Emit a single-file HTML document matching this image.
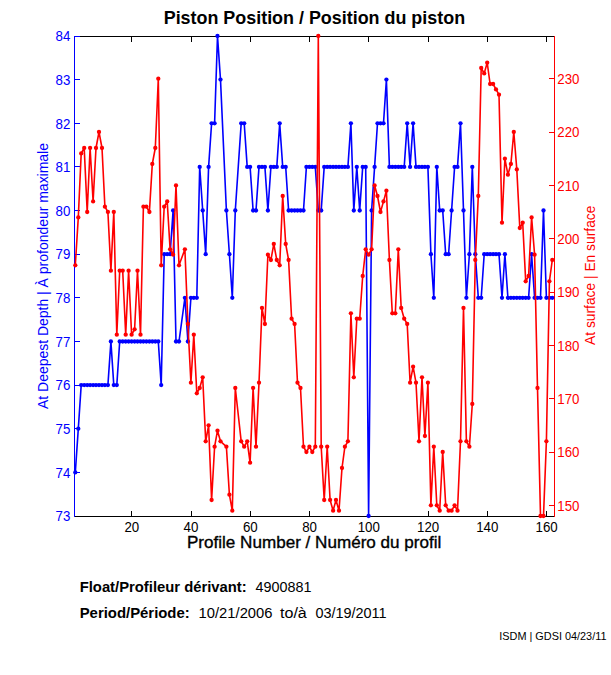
<!DOCTYPE html>
<html><head><meta charset="utf-8"><title>Piston Position</title>
<style>
html,body{margin:0;padding:0;background:#fff;}
body{width:611px;height:675px;overflow:hidden;font-family:"Liberation Sans",sans-serif;}
svg{display:block;font-family:"Liberation Sans",sans-serif;}
</style></head><body>
<svg width="611" height="675" viewBox="0 0 611 675">
<rect x="0" y="0" width="611" height="675" fill="#fff"/>
<g shape-rendering="crispEdges">
<rect x="74" y="36" width="481" height="1" fill="#000"/>
<rect x="74" y="516" width="481" height="1" fill="#000"/>
<rect x="131" y="511" width="1" height="5" fill="#000"/><rect x="131" y="37" width="1" height="5" fill="#000"/>
<rect x="191" y="511" width="1" height="5" fill="#000"/><rect x="191" y="37" width="1" height="5" fill="#000"/>
<rect x="250" y="511" width="1" height="5" fill="#000"/><rect x="250" y="37" width="1" height="5" fill="#000"/>
<rect x="309" y="511" width="1" height="5" fill="#000"/><rect x="309" y="37" width="1" height="5" fill="#000"/>
<rect x="368" y="511" width="1" height="5" fill="#000"/><rect x="368" y="37" width="1" height="5" fill="#000"/>
<rect x="428" y="511" width="1" height="5" fill="#000"/><rect x="428" y="37" width="1" height="5" fill="#000"/>
<rect x="487" y="511" width="1" height="5" fill="#000"/><rect x="487" y="37" width="1" height="5" fill="#000"/>
<rect x="546" y="511" width="1" height="5" fill="#000"/><rect x="546" y="37" width="1" height="5" fill="#000"/>
<rect x="74" y="36" width="1" height="481" fill="#00f"/>
<rect x="75" y="472" width="5" height="1" fill="#00f"/>
<rect x="75" y="428" width="5" height="1" fill="#00f"/>
<rect x="75" y="385" width="5" height="1" fill="#00f"/>
<rect x="75" y="341" width="5" height="1" fill="#00f"/>
<rect x="75" y="297" width="5" height="1" fill="#00f"/>
<rect x="75" y="254" width="5" height="1" fill="#00f"/>
<rect x="75" y="210" width="5" height="1" fill="#00f"/>
<rect x="75" y="166" width="5" height="1" fill="#00f"/>
<rect x="75" y="123" width="5" height="1" fill="#00f"/>
<rect x="75" y="79" width="5" height="1" fill="#00f"/>
<rect x="75" y="36" width="5" height="1" fill="#00f"/>
<rect x="554" y="36" width="1" height="481" fill="#f00"/>
<rect x="549" y="505" width="5" height="1" fill="#f00"/>
<rect x="549" y="452" width="5" height="1" fill="#f00"/>
<rect x="549" y="398" width="5" height="1" fill="#f00"/>
<rect x="549" y="345" width="5" height="1" fill="#f00"/>
<rect x="549" y="292" width="5" height="1" fill="#f00"/>
<rect x="549" y="238" width="5" height="1" fill="#f00"/>
<rect x="549" y="185" width="5" height="1" fill="#f00"/>
<rect x="549" y="132" width="5" height="1" fill="#f00"/>
<rect x="549" y="78" width="5" height="1" fill="#f00"/>
</g>
<g font-size="14px" fill="#000" lengthAdjust="spacingAndGlyphs">
<text x="124.4" y="532" textLength="14.8" lengthAdjust="spacingAndGlyphs">20</text><text x="183.6" y="532" textLength="14.8" lengthAdjust="spacingAndGlyphs">40</text><text x="242.9" y="532" textLength="14.8" lengthAdjust="spacingAndGlyphs">60</text><text x="302.2" y="532" textLength="14.8" lengthAdjust="spacingAndGlyphs">80</text><text x="357.7" y="532" textLength="22.2" lengthAdjust="spacingAndGlyphs">100</text><text x="417.0" y="532" textLength="22.2" lengthAdjust="spacingAndGlyphs">120</text><text x="476.2" y="532" textLength="22.2" lengthAdjust="spacingAndGlyphs">140</text><text x="535.5" y="532" textLength="22.2" lengthAdjust="spacingAndGlyphs">160</text></g>
<g font-size="14px" fill="#00f">
<text x="55.5" y="521.2" textLength="14.8" lengthAdjust="spacingAndGlyphs">73</text><text x="55.5" y="477.6" textLength="14.8" lengthAdjust="spacingAndGlyphs">74</text><text x="55.5" y="433.9" textLength="14.8" lengthAdjust="spacingAndGlyphs">75</text><text x="55.5" y="390.3" textLength="14.8" lengthAdjust="spacingAndGlyphs">76</text><text x="55.5" y="346.7" textLength="14.8" lengthAdjust="spacingAndGlyphs">77</text><text x="55.5" y="303.0" textLength="14.8" lengthAdjust="spacingAndGlyphs">78</text><text x="55.5" y="259.4" textLength="14.8" lengthAdjust="spacingAndGlyphs">79</text><text x="55.5" y="215.7" textLength="14.8" lengthAdjust="spacingAndGlyphs">80</text><text x="55.5" y="172.1" textLength="14.8" lengthAdjust="spacingAndGlyphs">81</text><text x="55.5" y="128.5" textLength="14.8" lengthAdjust="spacingAndGlyphs">82</text><text x="55.5" y="84.8" textLength="14.8" lengthAdjust="spacingAndGlyphs">83</text><text x="55.5" y="41.2" textLength="14.8" lengthAdjust="spacingAndGlyphs">84</text></g>
<g font-size="14px" fill="#f00">
<text x="557.3" y="510.5" textLength="22.2" lengthAdjust="spacingAndGlyphs">150</text><text x="557.3" y="457.2" textLength="22.2" lengthAdjust="spacingAndGlyphs">160</text><text x="557.3" y="403.9" textLength="22.2" lengthAdjust="spacingAndGlyphs">170</text><text x="557.3" y="350.5" textLength="22.2" lengthAdjust="spacingAndGlyphs">180</text><text x="557.3" y="297.2" textLength="22.2" lengthAdjust="spacingAndGlyphs">190</text><text x="557.3" y="243.9" textLength="22.2" lengthAdjust="spacingAndGlyphs">200</text><text x="557.3" y="190.6" textLength="22.2" lengthAdjust="spacingAndGlyphs">210</text><text x="557.3" y="137.2" textLength="22.2" lengthAdjust="spacingAndGlyphs">220</text><text x="557.3" y="83.9" textLength="22.2" lengthAdjust="spacingAndGlyphs">230</text></g>
<polyline fill="none" stroke="#00f" stroke-width="1.6" stroke-linejoin="round" points="75.3,472.4 78.3,428.7 81.2,385.1 84.2,385.1 87.2,385.1 90.1,385.1 93.1,385.1 96.0,385.1 99.0,385.1 102.0,385.1 104.9,385.1 107.9,385.1 110.9,341.5 113.8,385.1 116.8,385.1 119.7,341.5 122.7,341.5 125.7,341.5 128.6,341.5 131.6,341.5 134.6,341.5 137.5,341.5 140.5,341.5 143.4,341.5 146.4,341.5 149.4,341.5 152.3,341.5 155.3,341.5 158.3,341.5 161.2,385.1 164.2,254.2 167.2,254.2 170.1,254.2 173.1,210.5 176.0,341.5 179.0,341.5 184.9,297.8 187.9,341.5 190.9,297.8 193.8,297.8 196.8,297.8 199.7,166.9 202.7,210.5 205.7,254.2 208.6,166.9 211.6,123.3 214.6,123.3 217.5,36.0 220.5,79.6 226.4,210.5 229.4,254.2 232.3,297.8 235.3,210.5 241.2,123.3 244.2,123.3 247.2,166.9 250.1,166.9 253.1,210.5 256.0,210.5 259.0,166.9 262.0,166.9 264.9,166.9 267.9,210.5 270.9,166.9 273.8,166.9 276.8,166.9 279.7,123.3 282.7,166.9 285.7,166.9 288.6,210.5 291.6,210.5 294.6,210.5 297.5,210.5 300.5,210.5 303.5,210.5 306.4,166.9 309.4,166.9 312.3,166.9 315.3,166.9 318.3,210.5 321.2,210.5 324.2,166.9 327.2,166.9 330.1,166.9 333.1,166.9 336.0,166.9 339.0,166.9 342.0,166.9 344.9,166.9 347.9,166.9 350.9,123.3 353.8,210.5 356.8,166.9 359.7,210.5 362.7,166.9 365.7,166.9 368.6,516.0 371.6,210.5 374.6,166.9 377.5,123.3 380.5,123.3 383.5,123.3 386.4,79.6 389.4,166.9 392.3,166.9 395.3,166.9 398.3,166.9 401.2,166.9 404.2,166.9 407.2,123.3 410.1,166.9 413.1,123.3 416.0,166.9 419.0,166.9 422.0,166.9 424.9,166.9 427.9,166.9 430.9,254.2 433.8,297.8 436.8,166.9 439.7,210.5 442.7,210.5 445.7,254.2 448.6,254.2 451.6,210.5 454.6,166.9 457.5,166.9 460.5,123.3 463.5,210.5 466.4,297.8 469.4,254.2 472.3,166.9 475.3,254.2 478.3,297.8 481.2,297.8 484.2,254.2 487.2,254.2 490.1,254.2 493.1,254.2 496.0,254.2 499.0,254.2 502.0,297.8 504.9,254.2 507.9,297.8 510.9,297.8 513.8,297.8 516.8,297.8 519.8,297.8 522.7,297.8 525.7,297.8 528.6,297.8 531.6,254.2 534.6,297.8 537.5,297.8 540.5,297.8 543.5,210.5 546.4,297.8 549.4,297.8 552.3,297.8"/>
<g fill="#00f"><circle cx="75.3" cy="472.4" r="2.15"/><circle cx="78.3" cy="428.7" r="2.15"/><circle cx="81.2" cy="385.1" r="2.15"/><circle cx="84.2" cy="385.1" r="2.15"/><circle cx="87.2" cy="385.1" r="2.15"/><circle cx="90.1" cy="385.1" r="2.15"/><circle cx="93.1" cy="385.1" r="2.15"/><circle cx="96.0" cy="385.1" r="2.15"/><circle cx="99.0" cy="385.1" r="2.15"/><circle cx="102.0" cy="385.1" r="2.15"/><circle cx="104.9" cy="385.1" r="2.15"/><circle cx="107.9" cy="385.1" r="2.15"/><circle cx="110.9" cy="341.5" r="2.15"/><circle cx="113.8" cy="385.1" r="2.15"/><circle cx="116.8" cy="385.1" r="2.15"/><circle cx="119.7" cy="341.5" r="2.15"/><circle cx="122.7" cy="341.5" r="2.15"/><circle cx="125.7" cy="341.5" r="2.15"/><circle cx="128.6" cy="341.5" r="2.15"/><circle cx="131.6" cy="341.5" r="2.15"/><circle cx="134.6" cy="341.5" r="2.15"/><circle cx="137.5" cy="341.5" r="2.15"/><circle cx="140.5" cy="341.5" r="2.15"/><circle cx="143.4" cy="341.5" r="2.15"/><circle cx="146.4" cy="341.5" r="2.15"/><circle cx="149.4" cy="341.5" r="2.15"/><circle cx="152.3" cy="341.5" r="2.15"/><circle cx="155.3" cy="341.5" r="2.15"/><circle cx="158.3" cy="341.5" r="2.15"/><circle cx="161.2" cy="385.1" r="2.15"/><circle cx="164.2" cy="254.2" r="2.15"/><circle cx="167.2" cy="254.2" r="2.15"/><circle cx="170.1" cy="254.2" r="2.15"/><circle cx="173.1" cy="210.5" r="2.15"/><circle cx="176.0" cy="341.5" r="2.15"/><circle cx="179.0" cy="341.5" r="2.15"/><circle cx="184.9" cy="297.8" r="2.15"/><circle cx="187.9" cy="341.5" r="2.15"/><circle cx="190.9" cy="297.8" r="2.15"/><circle cx="193.8" cy="297.8" r="2.15"/><circle cx="196.8" cy="297.8" r="2.15"/><circle cx="199.7" cy="166.9" r="2.15"/><circle cx="202.7" cy="210.5" r="2.15"/><circle cx="205.7" cy="254.2" r="2.15"/><circle cx="208.6" cy="166.9" r="2.15"/><circle cx="211.6" cy="123.3" r="2.15"/><circle cx="214.6" cy="123.3" r="2.15"/><circle cx="217.5" cy="36.0" r="2.15"/><circle cx="220.5" cy="79.6" r="2.15"/><circle cx="226.4" cy="210.5" r="2.15"/><circle cx="229.4" cy="254.2" r="2.15"/><circle cx="232.3" cy="297.8" r="2.15"/><circle cx="235.3" cy="210.5" r="2.15"/><circle cx="241.2" cy="123.3" r="2.15"/><circle cx="244.2" cy="123.3" r="2.15"/><circle cx="247.2" cy="166.9" r="2.15"/><circle cx="250.1" cy="166.9" r="2.15"/><circle cx="253.1" cy="210.5" r="2.15"/><circle cx="256.0" cy="210.5" r="2.15"/><circle cx="259.0" cy="166.9" r="2.15"/><circle cx="262.0" cy="166.9" r="2.15"/><circle cx="264.9" cy="166.9" r="2.15"/><circle cx="267.9" cy="210.5" r="2.15"/><circle cx="270.9" cy="166.9" r="2.15"/><circle cx="273.8" cy="166.9" r="2.15"/><circle cx="276.8" cy="166.9" r="2.15"/><circle cx="279.7" cy="123.3" r="2.15"/><circle cx="282.7" cy="166.9" r="2.15"/><circle cx="285.7" cy="166.9" r="2.15"/><circle cx="288.6" cy="210.5" r="2.15"/><circle cx="291.6" cy="210.5" r="2.15"/><circle cx="294.6" cy="210.5" r="2.15"/><circle cx="297.5" cy="210.5" r="2.15"/><circle cx="300.5" cy="210.5" r="2.15"/><circle cx="303.5" cy="210.5" r="2.15"/><circle cx="306.4" cy="166.9" r="2.15"/><circle cx="309.4" cy="166.9" r="2.15"/><circle cx="312.3" cy="166.9" r="2.15"/><circle cx="315.3" cy="166.9" r="2.15"/><circle cx="318.3" cy="210.5" r="2.15"/><circle cx="321.2" cy="210.5" r="2.15"/><circle cx="324.2" cy="166.9" r="2.15"/><circle cx="327.2" cy="166.9" r="2.15"/><circle cx="330.1" cy="166.9" r="2.15"/><circle cx="333.1" cy="166.9" r="2.15"/><circle cx="336.0" cy="166.9" r="2.15"/><circle cx="339.0" cy="166.9" r="2.15"/><circle cx="342.0" cy="166.9" r="2.15"/><circle cx="344.9" cy="166.9" r="2.15"/><circle cx="347.9" cy="166.9" r="2.15"/><circle cx="350.9" cy="123.3" r="2.15"/><circle cx="353.8" cy="210.5" r="2.15"/><circle cx="356.8" cy="166.9" r="2.15"/><circle cx="359.7" cy="210.5" r="2.15"/><circle cx="362.7" cy="166.9" r="2.15"/><circle cx="365.7" cy="166.9" r="2.15"/><circle cx="368.6" cy="516.0" r="2.15"/><circle cx="371.6" cy="210.5" r="2.15"/><circle cx="374.6" cy="166.9" r="2.15"/><circle cx="377.5" cy="123.3" r="2.15"/><circle cx="380.5" cy="123.3" r="2.15"/><circle cx="383.5" cy="123.3" r="2.15"/><circle cx="386.4" cy="79.6" r="2.15"/><circle cx="389.4" cy="166.9" r="2.15"/><circle cx="392.3" cy="166.9" r="2.15"/><circle cx="395.3" cy="166.9" r="2.15"/><circle cx="398.3" cy="166.9" r="2.15"/><circle cx="401.2" cy="166.9" r="2.15"/><circle cx="404.2" cy="166.9" r="2.15"/><circle cx="407.2" cy="123.3" r="2.15"/><circle cx="410.1" cy="166.9" r="2.15"/><circle cx="413.1" cy="123.3" r="2.15"/><circle cx="416.0" cy="166.9" r="2.15"/><circle cx="419.0" cy="166.9" r="2.15"/><circle cx="422.0" cy="166.9" r="2.15"/><circle cx="424.9" cy="166.9" r="2.15"/><circle cx="427.9" cy="166.9" r="2.15"/><circle cx="430.9" cy="254.2" r="2.15"/><circle cx="433.8" cy="297.8" r="2.15"/><circle cx="436.8" cy="166.9" r="2.15"/><circle cx="439.7" cy="210.5" r="2.15"/><circle cx="442.7" cy="210.5" r="2.15"/><circle cx="445.7" cy="254.2" r="2.15"/><circle cx="448.6" cy="254.2" r="2.15"/><circle cx="451.6" cy="210.5" r="2.15"/><circle cx="454.6" cy="166.9" r="2.15"/><circle cx="457.5" cy="166.9" r="2.15"/><circle cx="460.5" cy="123.3" r="2.15"/><circle cx="463.5" cy="210.5" r="2.15"/><circle cx="466.4" cy="297.8" r="2.15"/><circle cx="469.4" cy="254.2" r="2.15"/><circle cx="472.3" cy="166.9" r="2.15"/><circle cx="475.3" cy="254.2" r="2.15"/><circle cx="478.3" cy="297.8" r="2.15"/><circle cx="481.2" cy="297.8" r="2.15"/><circle cx="484.2" cy="254.2" r="2.15"/><circle cx="487.2" cy="254.2" r="2.15"/><circle cx="490.1" cy="254.2" r="2.15"/><circle cx="493.1" cy="254.2" r="2.15"/><circle cx="496.0" cy="254.2" r="2.15"/><circle cx="499.0" cy="254.2" r="2.15"/><circle cx="502.0" cy="297.8" r="2.15"/><circle cx="504.9" cy="254.2" r="2.15"/><circle cx="507.9" cy="297.8" r="2.15"/><circle cx="510.9" cy="297.8" r="2.15"/><circle cx="513.8" cy="297.8" r="2.15"/><circle cx="516.8" cy="297.8" r="2.15"/><circle cx="519.8" cy="297.8" r="2.15"/><circle cx="522.7" cy="297.8" r="2.15"/><circle cx="525.7" cy="297.8" r="2.15"/><circle cx="528.6" cy="297.8" r="2.15"/><circle cx="531.6" cy="254.2" r="2.15"/><circle cx="534.6" cy="297.8" r="2.15"/><circle cx="537.5" cy="297.8" r="2.15"/><circle cx="540.5" cy="297.8" r="2.15"/><circle cx="543.5" cy="210.5" r="2.15"/><circle cx="546.4" cy="297.8" r="2.15"/><circle cx="549.4" cy="297.8" r="2.15"/><circle cx="552.3" cy="297.8" r="2.15"/></g>
<polyline fill="none" stroke="#f00" stroke-width="1.6" stroke-linejoin="round" points="75.3,265.3 78.3,217.4 81.2,153.4 84.2,148.0 87.2,212.0 90.1,148.0 93.1,201.4 96.0,148.0 99.0,132.0 102.0,148.0 104.9,206.7 107.9,212.0 110.9,270.7 113.8,212.0 116.8,334.7 119.7,270.7 122.7,270.7 125.7,334.7 128.6,270.7 131.6,334.7 134.6,329.3 137.5,270.7 140.5,334.7 143.4,206.7 146.4,206.7 149.4,212.0 152.3,164.0 155.3,148.0 158.3,78.7 161.2,265.3 164.2,206.7 167.2,201.4 170.1,249.3 173.1,254.7 176.0,185.4 179.0,265.3 184.9,249.3 187.9,324.0 190.9,382.7 193.8,334.7 196.8,393.3 199.7,388.0 202.7,377.3 205.7,441.3 208.6,425.3 211.6,500.0 214.6,446.7 217.5,430.7 220.5,441.3 226.4,446.7 229.4,494.7 232.3,510.7 235.3,388.0 241.2,441.3 244.2,446.7 247.2,441.3 250.1,462.7 253.1,388.0 256.0,446.7 259.0,382.7 262.0,308.0 264.9,324.0 267.9,254.7 270.9,260.0 273.8,244.0 276.8,260.0 279.7,265.3 282.7,196.0 285.7,244.0 288.6,260.0 291.6,318.7 294.6,324.0 297.5,382.7 300.5,388.0 303.5,446.7 306.4,452.0 309.4,446.7 312.3,452.0 315.3,446.7 318.3,36.0 321.2,446.7 324.2,500.0 327.2,446.7 330.1,500.0 333.1,510.7 336.0,500.0 339.0,510.7 342.0,468.0 344.9,446.7 347.9,441.3 350.9,313.3 353.8,377.3 356.8,318.7 359.7,318.7 362.7,276.0 365.7,249.3 368.6,254.7 371.6,249.3 374.6,185.4 377.5,196.0 380.5,212.0 383.5,201.4 386.4,190.7 389.4,260.0 392.3,313.3 395.3,313.3 398.3,249.3 401.2,308.0 404.2,318.7 407.2,324.0 410.1,382.7 413.1,366.7 416.0,382.7 419.0,441.3 422.0,377.3 424.9,436.0 427.9,382.7 430.9,505.3 433.8,446.7 436.8,505.3 439.7,510.7 442.7,452.0 445.7,505.3 448.6,510.7 451.6,510.7 454.6,505.3 457.5,510.7 460.5,441.3 463.5,308.0 466.4,441.3 469.4,446.7 472.3,404.0 475.3,260.0 478.3,196.0 481.2,68.0 484.2,73.4 487.2,62.7 490.1,84.0 493.1,84.0 496.0,89.4 499.0,94.7 502.0,222.7 504.9,158.7 507.9,174.7 510.9,164.0 513.8,132.0 516.8,169.4 519.8,228.0 522.7,222.7 525.7,281.3 528.6,276.0 531.6,217.4 534.6,254.7 537.5,388.0 540.5,516.0 543.5,516.0 546.4,441.3 549.4,281.3 552.3,260.0"/>
<g fill="#f00"><circle cx="75.3" cy="265.3" r="2.15"/><circle cx="78.3" cy="217.4" r="2.15"/><circle cx="81.2" cy="153.4" r="2.15"/><circle cx="84.2" cy="148.0" r="2.15"/><circle cx="87.2" cy="212.0" r="2.15"/><circle cx="90.1" cy="148.0" r="2.15"/><circle cx="93.1" cy="201.4" r="2.15"/><circle cx="96.0" cy="148.0" r="2.15"/><circle cx="99.0" cy="132.0" r="2.15"/><circle cx="102.0" cy="148.0" r="2.15"/><circle cx="104.9" cy="206.7" r="2.15"/><circle cx="107.9" cy="212.0" r="2.15"/><circle cx="110.9" cy="270.7" r="2.15"/><circle cx="113.8" cy="212.0" r="2.15"/><circle cx="116.8" cy="334.7" r="2.15"/><circle cx="119.7" cy="270.7" r="2.15"/><circle cx="122.7" cy="270.7" r="2.15"/><circle cx="125.7" cy="334.7" r="2.15"/><circle cx="128.6" cy="270.7" r="2.15"/><circle cx="131.6" cy="334.7" r="2.15"/><circle cx="134.6" cy="329.3" r="2.15"/><circle cx="137.5" cy="270.7" r="2.15"/><circle cx="140.5" cy="334.7" r="2.15"/><circle cx="143.4" cy="206.7" r="2.15"/><circle cx="146.4" cy="206.7" r="2.15"/><circle cx="149.4" cy="212.0" r="2.15"/><circle cx="152.3" cy="164.0" r="2.15"/><circle cx="155.3" cy="148.0" r="2.15"/><circle cx="158.3" cy="78.7" r="2.15"/><circle cx="161.2" cy="265.3" r="2.15"/><circle cx="164.2" cy="206.7" r="2.15"/><circle cx="167.2" cy="201.4" r="2.15"/><circle cx="170.1" cy="249.3" r="2.15"/><circle cx="173.1" cy="254.7" r="2.15"/><circle cx="176.0" cy="185.4" r="2.15"/><circle cx="179.0" cy="265.3" r="2.15"/><circle cx="184.9" cy="249.3" r="2.15"/><circle cx="187.9" cy="324.0" r="2.15"/><circle cx="190.9" cy="382.7" r="2.15"/><circle cx="193.8" cy="334.7" r="2.15"/><circle cx="196.8" cy="393.3" r="2.15"/><circle cx="199.7" cy="388.0" r="2.15"/><circle cx="202.7" cy="377.3" r="2.15"/><circle cx="205.7" cy="441.3" r="2.15"/><circle cx="208.6" cy="425.3" r="2.15"/><circle cx="211.6" cy="500.0" r="2.15"/><circle cx="214.6" cy="446.7" r="2.15"/><circle cx="217.5" cy="430.7" r="2.15"/><circle cx="220.5" cy="441.3" r="2.15"/><circle cx="226.4" cy="446.7" r="2.15"/><circle cx="229.4" cy="494.7" r="2.15"/><circle cx="232.3" cy="510.7" r="2.15"/><circle cx="235.3" cy="388.0" r="2.15"/><circle cx="241.2" cy="441.3" r="2.15"/><circle cx="244.2" cy="446.7" r="2.15"/><circle cx="247.2" cy="441.3" r="2.15"/><circle cx="250.1" cy="462.7" r="2.15"/><circle cx="253.1" cy="388.0" r="2.15"/><circle cx="256.0" cy="446.7" r="2.15"/><circle cx="259.0" cy="382.7" r="2.15"/><circle cx="262.0" cy="308.0" r="2.15"/><circle cx="264.9" cy="324.0" r="2.15"/><circle cx="267.9" cy="254.7" r="2.15"/><circle cx="270.9" cy="260.0" r="2.15"/><circle cx="273.8" cy="244.0" r="2.15"/><circle cx="276.8" cy="260.0" r="2.15"/><circle cx="279.7" cy="265.3" r="2.15"/><circle cx="282.7" cy="196.0" r="2.15"/><circle cx="285.7" cy="244.0" r="2.15"/><circle cx="288.6" cy="260.0" r="2.15"/><circle cx="291.6" cy="318.7" r="2.15"/><circle cx="294.6" cy="324.0" r="2.15"/><circle cx="297.5" cy="382.7" r="2.15"/><circle cx="300.5" cy="388.0" r="2.15"/><circle cx="303.5" cy="446.7" r="2.15"/><circle cx="306.4" cy="452.0" r="2.15"/><circle cx="309.4" cy="446.7" r="2.15"/><circle cx="312.3" cy="452.0" r="2.15"/><circle cx="315.3" cy="446.7" r="2.15"/><circle cx="318.3" cy="36.0" r="2.15"/><circle cx="321.2" cy="446.7" r="2.15"/><circle cx="324.2" cy="500.0" r="2.15"/><circle cx="327.2" cy="446.7" r="2.15"/><circle cx="330.1" cy="500.0" r="2.15"/><circle cx="333.1" cy="510.7" r="2.15"/><circle cx="336.0" cy="500.0" r="2.15"/><circle cx="339.0" cy="510.7" r="2.15"/><circle cx="342.0" cy="468.0" r="2.15"/><circle cx="344.9" cy="446.7" r="2.15"/><circle cx="347.9" cy="441.3" r="2.15"/><circle cx="350.9" cy="313.3" r="2.15"/><circle cx="353.8" cy="377.3" r="2.15"/><circle cx="356.8" cy="318.7" r="2.15"/><circle cx="359.7" cy="318.7" r="2.15"/><circle cx="362.7" cy="276.0" r="2.15"/><circle cx="365.7" cy="249.3" r="2.15"/><circle cx="368.6" cy="254.7" r="2.15"/><circle cx="371.6" cy="249.3" r="2.15"/><circle cx="374.6" cy="185.4" r="2.15"/><circle cx="377.5" cy="196.0" r="2.15"/><circle cx="380.5" cy="212.0" r="2.15"/><circle cx="383.5" cy="201.4" r="2.15"/><circle cx="386.4" cy="190.7" r="2.15"/><circle cx="389.4" cy="260.0" r="2.15"/><circle cx="392.3" cy="313.3" r="2.15"/><circle cx="395.3" cy="313.3" r="2.15"/><circle cx="398.3" cy="249.3" r="2.15"/><circle cx="401.2" cy="308.0" r="2.15"/><circle cx="404.2" cy="318.7" r="2.15"/><circle cx="407.2" cy="324.0" r="2.15"/><circle cx="410.1" cy="382.7" r="2.15"/><circle cx="413.1" cy="366.7" r="2.15"/><circle cx="416.0" cy="382.7" r="2.15"/><circle cx="419.0" cy="441.3" r="2.15"/><circle cx="422.0" cy="377.3" r="2.15"/><circle cx="424.9" cy="436.0" r="2.15"/><circle cx="427.9" cy="382.7" r="2.15"/><circle cx="430.9" cy="505.3" r="2.15"/><circle cx="433.8" cy="446.7" r="2.15"/><circle cx="436.8" cy="505.3" r="2.15"/><circle cx="439.7" cy="510.7" r="2.15"/><circle cx="442.7" cy="452.0" r="2.15"/><circle cx="445.7" cy="505.3" r="2.15"/><circle cx="448.6" cy="510.7" r="2.15"/><circle cx="451.6" cy="510.7" r="2.15"/><circle cx="454.6" cy="505.3" r="2.15"/><circle cx="457.5" cy="510.7" r="2.15"/><circle cx="460.5" cy="441.3" r="2.15"/><circle cx="463.5" cy="308.0" r="2.15"/><circle cx="466.4" cy="441.3" r="2.15"/><circle cx="469.4" cy="446.7" r="2.15"/><circle cx="472.3" cy="404.0" r="2.15"/><circle cx="475.3" cy="260.0" r="2.15"/><circle cx="478.3" cy="196.0" r="2.15"/><circle cx="481.2" cy="68.0" r="2.15"/><circle cx="484.2" cy="73.4" r="2.15"/><circle cx="487.2" cy="62.7" r="2.15"/><circle cx="490.1" cy="84.0" r="2.15"/><circle cx="493.1" cy="84.0" r="2.15"/><circle cx="496.0" cy="89.4" r="2.15"/><circle cx="499.0" cy="94.7" r="2.15"/><circle cx="502.0" cy="222.7" r="2.15"/><circle cx="504.9" cy="158.7" r="2.15"/><circle cx="507.9" cy="174.7" r="2.15"/><circle cx="510.9" cy="164.0" r="2.15"/><circle cx="513.8" cy="132.0" r="2.15"/><circle cx="516.8" cy="169.4" r="2.15"/><circle cx="519.8" cy="228.0" r="2.15"/><circle cx="522.7" cy="222.7" r="2.15"/><circle cx="525.7" cy="281.3" r="2.15"/><circle cx="528.6" cy="276.0" r="2.15"/><circle cx="531.6" cy="217.4" r="2.15"/><circle cx="534.6" cy="254.7" r="2.15"/><circle cx="537.5" cy="388.0" r="2.15"/><circle cx="540.5" cy="516.0" r="2.15"/><circle cx="543.5" cy="516.0" r="2.15"/><circle cx="546.4" cy="441.3" r="2.15"/><circle cx="549.4" cy="281.3" r="2.15"/><circle cx="552.3" cy="260.0" r="2.15"/></g>
<text id="title" x="163.7" y="24.0" font-size="18px" font-weight="bold" fill="#000" textLength="301.4" lengthAdjust="spacingAndGlyphs" >Piston Position / Position du piston</text>
<text id="xlabel" x="186.9" y="547.6" font-size="17px" font-weight="normal" fill="#000" textLength="254.5" lengthAdjust="spacingAndGlyphs" stroke="#000" stroke-width="0.35">Profile Number / Numéro du profil</text>
<g transform="translate(48,409) rotate(-90)"><text id="yl" x="0.0" y="0.0" font-size="14px" font-weight="normal" fill="#00f" textLength="266.0" lengthAdjust="spacingAndGlyphs" >At Deepest Depth | À profondeur maximale</text>
</g>
<g transform="translate(595.2,345) rotate(-90)"><text id="yr" x="0.0" y="0.0" font-size="14px" font-weight="normal" fill="#f00" textLength="139.4" lengthAdjust="spacingAndGlyphs" >At surface | En surface</text>
</g>
<text id="f1" x="79.7" y="591.5" font-size="14px" font-weight="bold" fill="#000" textLength="167.0" lengthAdjust="spacingAndGlyphs" >Float/Profileur dérivant:</text>
<text id="f1v" x="255.6" y="591.5" font-size="14px" font-weight="normal" fill="#000" textLength="55.9" lengthAdjust="spacingAndGlyphs" >4900881</text>
<text id="f2" x="79.7" y="618.0" font-size="14px" font-weight="bold" fill="#000" textLength="110.0" lengthAdjust="spacingAndGlyphs" >Period/Période:</text>
<text id="f2a" x="198.6" y="618.0" font-size="14px" font-weight="normal" fill="#000" textLength="73.9" lengthAdjust="spacingAndGlyphs" >10/21/2006</text>
<text id="f2b" x="280.0" y="618.0" font-size="14px" font-weight="normal" fill="#000" textLength="26.8" lengthAdjust="spacingAndGlyphs" >to/à</text>
<text id="f2c" x="315.4" y="618.0" font-size="14px" font-weight="normal" fill="#000" textLength="71.2" lengthAdjust="spacingAndGlyphs" >03/19/2011</text>
<text id="stamp" x="499.3" y="640.3" font-size="10.67px" font-weight="normal" fill="#000" textLength="107.2" lengthAdjust="spacingAndGlyphs" >ISDM | GDSI 04/23/11</text>
</svg>
</body></html>
